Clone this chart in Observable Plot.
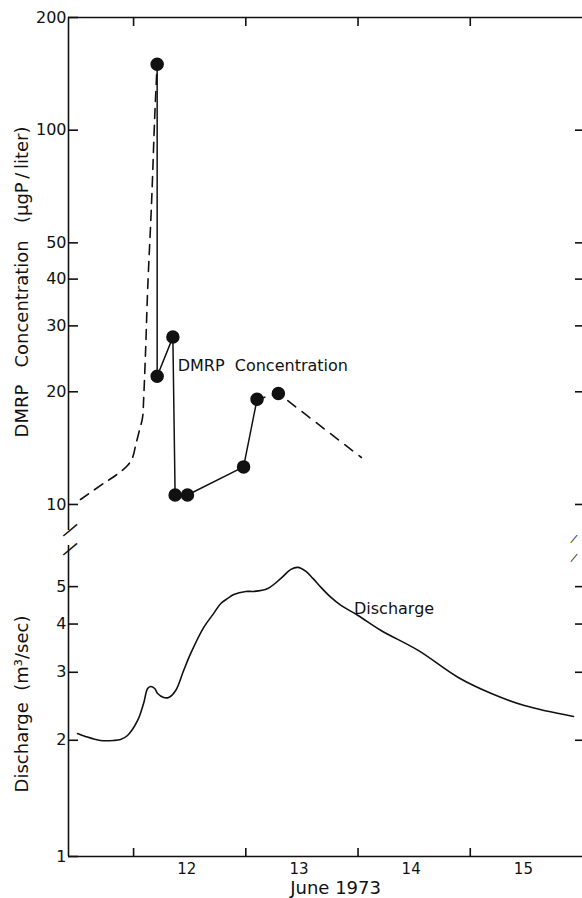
<!DOCTYPE html>
<html><head><meta charset="utf-8">
<script src="https://cdn.jsdelivr.net/npm/d3@7"></script>
<script src="https://cdn.jsdelivr.net/npm/@observablehq/plot@0.6"></script>
<style>
body{margin:0;background:#fff}
#chart svg{display:block;background:#fff}
</style>
</head><body><div id="chart"></div>
<script>
// shared time axis (days; 12.0 = midnight starting June 12)
const xDomain = [11.42, 16.0];
const dayTicks = [12, 13, 14, 15];
const dayLabelPos = [12.5, 13.5, 14.5, 15.5];
const dayLabels = ["12", "13", "14", "15"];
const monthLabel = "June 1973";
const monthLabelPos = 13.80;

// top panel: DMRP concentration (log)
const concDomain = [8.52, 200];
const concTicks = [10, 20, 30, 40, 50, 100, 200];
const concRightTicks = [10, 20, 30, 40, 50, 100];
const concTitle = "DMRP\u00a0\u00a0\u00a0Concentration\u00a0\u00a0\u00a0(\u03bcgP\u2009/\u2009liter)";
const concSeriesLabel = "DMRP\u00a0\u00a0Concentration";
const concLabelAt = [12.393, 23.5];

// measured samples (solid)
const sampleTime = [12.21, 12.21, 12.35, 12.37, 12.48, 12.98, 13.10, 13.29];
const sampleConc = [150, 22, 28, 10.6, 10.6, 12.6, 19.1, 19.8];
const solidCount = 7;
// estimated rise (dashed)
const riseTime = [11.527, 11.732, 11.839, 11.946, 11.991, 12.018, 12.045, 12.080, 12.089, 12.107, 12.125, 12.161, 12.188, 12.205, 12.21];
const riseConc = [10.31, 11.38, 11.95, 12.71, 13.35, 14.38, 15.48, 17.08, 18.96, 25.79, 37.3, 64.9, 108.1, 140, 150];
// estimated tail (dashed)
const tailTime = [13.10, 13.29, 14.03];
const tailConc = [19.1, 19.8, 13.35];

// bottom panel: discharge (log)
const qDomain = [1, 6.39];
const qTicks = [1, 2, 3, 4, 5];
const qRightTicks = [2, 3, 4, 5];
const qTitle = "Discharge\u00a0\u00a0(m\u00b3/sec)";
const qSeriesLabel = "Discharge";
const qLabelAt = [13.964, 4.39];
const qTime = [11.500, 11.571, 11.705, 11.821, 11.884, 11.946, 12.036, 12.089, 12.125, 12.152, 12.188, 12.214, 12.268, 12.313, 12.375, 12.446, 12.509, 12.625, 12.714, 12.777, 12.839, 12.893, 13.000, 13.071, 13.196, 13.313, 13.402, 13.464, 13.536, 13.598, 13.670, 13.759, 13.848, 14.000, 14.205, 14.536, 14.893, 15.188, 15.482, 15.920];
const qValue = [2.083, 2.046, 1.998, 1.998, 2.010, 2.058, 2.251, 2.491, 2.724, 2.757, 2.724, 2.644, 2.582, 2.582, 2.692, 3.033, 3.357, 3.920, 4.262, 4.523, 4.660, 4.773, 4.859, 4.859, 4.947, 5.252, 5.542, 5.609, 5.474, 5.252, 4.977, 4.688, 4.470, 4.210, 3.850, 3.418, 2.909, 2.644, 2.461, 2.305];

const zip = (xs, ys) => xs.map((x, i) => ({x, y: ys[i]}));
const samples = zip(sampleTime, sampleConc);
const rise = zip(riseTime, riseConc);
const tail = zip(tailTime, tailConc);
const discharge = zip(qTime, qValue);

const INK = "#111";
const FONT = "DejaVu Sans";

const topPanel = Plot.plot({
  width: 582, height: 536,
  marginLeft: 68, marginRight: 0, marginTop: 17, marginBottom: 6,
  style: {fontFamily: FONT, fontSize: "16px", color: INK, background: "#fff", overflow: "visible"},
  x: {domain: xDomain, label: null},
  y: {type: "log", domain: concDomain, label: null},
  marks: [
    Plot.ruleX([xDomain[0]], {stroke: INK, strokeWidth: 1.6}),
    Plot.ruleY([concDomain[1]], {stroke: INK, strokeWidth: 1.6}),
    Plot.axisX({anchor: "top", ticks: dayTicks, tickSize: -8, tickFormat: () => "", label: null, stroke: INK, strokeWidth: 1.6}),
    Plot.axisY({anchor: "left", ticks: concTicks, tickSize: -10, tickPadding: 12, tickFormat: d => String(d), label: null, fontSize: 16, stroke: INK, strokeWidth: 1.6, fill: INK}),
    Plot.axisY({anchor: "right", ticks: concRightTicks, tickSize: -8, tickFormat: () => "", label: null, stroke: INK, strokeWidth: 1.6}),
    Plot.line(rise, {x: "x", y: "y", curve: "catmull-rom", stroke: INK, strokeWidth: 1.6, strokeDasharray: "10,7"}),
    Plot.line(tail, {x: "x", y: "y", stroke: INK, strokeWidth: 1.6, strokeDasharray: "10,8", strokeDashoffset: 2}),
    Plot.line(samples.slice(0, solidCount), {x: "x", y: "y", stroke: INK, strokeWidth: 1.5}),
    Plot.dot(samples, {x: "x", y: "y", r: 6, fill: INK, stroke: INK}),
    Plot.text([concSeriesLabel], {x: concLabelAt[0], y: concLabelAt[1], text: d => d, textAnchor: "start", lineAnchor: "middle", fontSize: 16, fill: INK}),
    Plot.text([concTitle], {frameAnchor: "left", textAnchor: "middle", lineAnchor: "middle", text: d => d, rotate: -90, dx: -46, dy: 8, fontSize: 18, fill: INK}),
    Plot.text(["\u2014"], {x: xDomain[0], y: concDomain[0], text: d => d, rotate: -40, fontSize: 20, fill: INK, dx: 1, dy: -1}),
    Plot.text(["\u2014"], {x: xDomain[1], y: concDomain[0], text: d => d, rotate: -50, fontSize: 11, fill: INK, dx: -9, dy: 8})
  ]
});

const bottomPanel = Plot.plot({
  width: 582, height: 362,
  marginLeft: 68, marginRight: 0, marginTop: 9, marginBottom: 42,
  style: {fontFamily: FONT, fontSize: "16px", color: INK, background: "#fff", overflow: "visible"},
  x: {domain: xDomain, label: null},
  y: {type: "log", domain: qDomain, label: null},
  marks: [
    Plot.ruleX([xDomain[0]], {stroke: INK, strokeWidth: 1.6}),
    Plot.ruleY([qDomain[0]], {stroke: INK, strokeWidth: 1.6}),
    Plot.axisX({anchor: "bottom", ticks: dayTicks, tickSize: -8, tickFormat: () => "", label: null, stroke: INK, strokeWidth: 1.6}),
    Plot.axisX({anchor: "bottom", ticks: dayLabelPos, tickSize: 0, tickPadding: 7, dx: -3, tickFormat: d => dayLabels[dayLabelPos.indexOf(d)], label: null, fontSize: 15, fill: INK}),
    Plot.axisY({anchor: "left", ticks: qTicks, tickSize: -10, tickPadding: 12, tickFormat: d => String(d), label: null, fontSize: 16, stroke: INK, strokeWidth: 1.6, fill: INK}),
    Plot.axisY({anchor: "right", ticks: qRightTicks, tickSize: -8, tickFormat: () => "", label: null, stroke: INK, strokeWidth: 1.6}),
    Plot.line(discharge, {x: "x", y: "y", curve: "catmull-rom", stroke: INK, strokeWidth: 1.6}),
    Plot.text([qSeriesLabel], {x: qLabelAt[0], y: qLabelAt[1], text: d => d, textAnchor: "start", lineAnchor: "middle", fontSize: 16, fill: INK}),
    Plot.text([qTitle], {frameAnchor: "left", textAnchor: "middle", lineAnchor: "middle", text: d => d, rotate: -90, dx: -46, dy: 3, fontSize: 18, fill: INK}),
    Plot.text([monthLabel], {x: monthLabelPos, frameAnchor: "bottom", textAnchor: "middle", text: d => d, dy: 32, lineAnchor: "middle", fontSize: 18, fill: INK}),
    Plot.text(["\u2014"], {x: xDomain[0], y: qDomain[1], text: d => d, rotate: -40, fontSize: 20, fill: INK, dx: 1, dy: 3}),
    Plot.text(["\u2014"], {x: xDomain[1], y: qDomain[1], text: d => d, rotate: -50, fontSize: 11, fill: INK, dx: -9, dy: 12})
  ]
});

const el = document.getElementById("chart");
el.appendChild(topPanel);
el.appendChild(bottomPanel);
</script>
</body></html>
